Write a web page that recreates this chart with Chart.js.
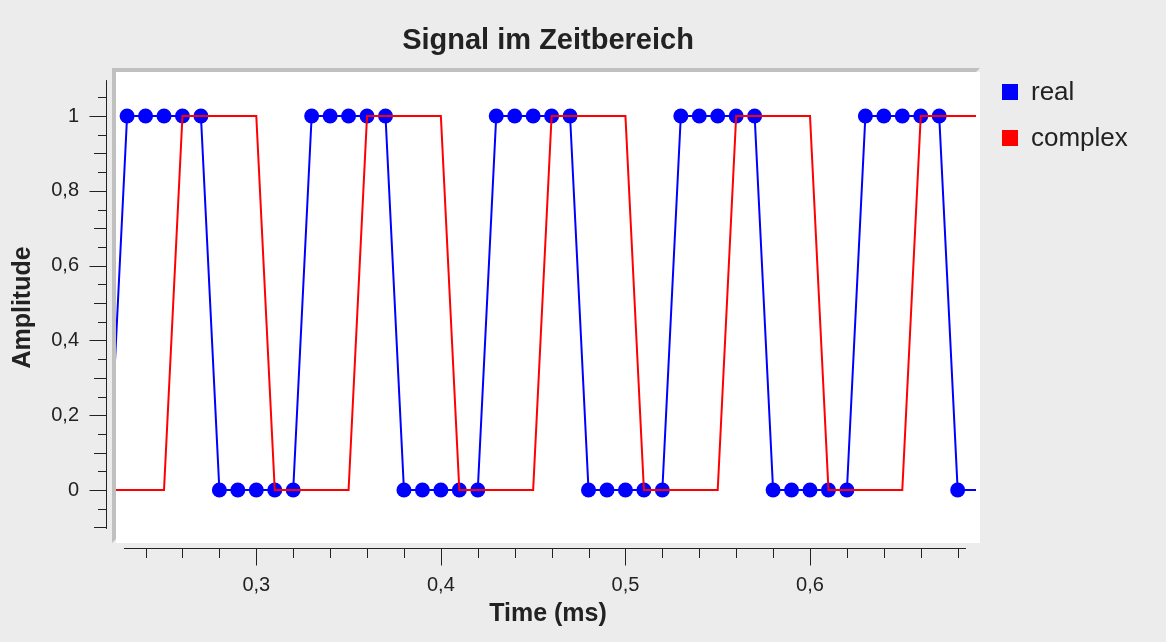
<!DOCTYPE html>
<html>
<head>
<meta charset="utf-8">
<title>Signal im Zeitbereich</title>
<script src="https://cdn.jsdelivr.net/npm/chart.js@4.4.1/dist/chart.umd.min.js"></script>
<style>
    html, body { margin: 0; padding: 0; background: #ececec; }
    #wrap { width: 1166px; height: 642px; position: relative; }
</style>
</head>
<body>
<div id="wrap"><canvas id="signalChart"></canvas></div>
<script>
// sample times (ms)
const timeMs = [0.22, 0.23, 0.24, 0.25, 0.26, 0.27, 0.28, 0.29, 0.30, 0.31,
    0.32, 0.33, 0.34, 0.35, 0.36, 0.37, 0.38, 0.39, 0.40, 0.41,
    0.42, 0.43, 0.44, 0.45, 0.46, 0.47, 0.48, 0.49, 0.50, 0.51,
    0.52, 0.53, 0.54, 0.55, 0.56, 0.57, 0.58, 0.59, 0.60, 0.61,
    0.62, 0.63, 0.64, 0.65, 0.66, 0.67, 0.68, 0.69, 0.70]

const realValues = [0, 1, 1, 1, 1, 1, 0, 0, 0, 0,
    0, 1, 1, 1, 1, 1, 0, 0, 0, 0,
    0, 1, 1, 1, 1, 1, 0, 0, 0, 0,
    0, 1, 1, 1, 1, 1, 0, 0, 0, 0,
    0, 1, 1, 1, 1, 1, 0, 0, 0]

const complexValues = [0, 0, 0, 0, 1, 1, 1, 1, 1, 0,
    0, 0, 0, 0, 1, 1, 1, 1, 1, 0,
    0, 0, 0, 0, 1, 1, 1, 1, 1, 0,
    0, 0, 0, 0, 1, 1, 1, 1, 1, 0,
    0, 0, 0, 0, 1, 1, 1, 1, 1]

const xTickValues = [0.3, 0.4, 0.5, 0.6]
const xTickLabels = ['0,3', '0,4', '0,5', '0,6']
const xMinorTicks = [0.24, 0.26, 0.28, 0.32, 0.34, 0.36, 0.38, 0.42, 0.44, 0.46, 0.48,
    0.52, 0.54, 0.56, 0.58, 0.62, 0.64, 0.66, 0.68]

const yTickValues = [0, 0.2, 0.4, 0.6, 0.8, 1]
const yTickLabels = ['0', '0,2', '0,4', '0,6', '0,8', '1']
const yMidTicks = [-0.1, 0.1, 0.3, 0.5, 0.7, 0.9]
const yMinorTicks = [-0.05, 0.05, 0.15, 0.25, 0.35, 0.45, 0.55, 0.65, 0.75, 0.85, 0.95, 1.05]

// drawn axis extent and visible plot window
const xAxisRange = [0.2283, 0.6845]
const yAxisRange = [-0.104, 1.096]
const xView = [0.22399, 0.69210]
const yView = [-0.14171, 1.11765]

const seriesNames = ['real', 'complex']
const seriesColors = ['#0000ff', '#ff0000']

const toPoints = (values) => timeMs.map((t, i) => ({ x: t, y: values[i] }))

const inAxisRange = (c) => c.raw && c.raw.x >= xAxisRange[0] && c.raw.x <= xAxisRange[1]

const frameAndAxes = {
    id: 'frameAndAxes',
    beforeDraw (chart) {
        const { ctx, chartArea: a } = chart
        ctx.save()
        ctx.fillStyle = '#ffffff'
        ctx.fillRect(a.left, a.top, a.right - a.left, a.bottom - a.top)
        ctx.fillStyle = '#c0c0c0'
        ctx.beginPath()
        ctx.moveTo(a.left - 4, a.top - 4)
        ctx.lineTo(a.right, a.top - 4)
        ctx.lineTo(a.right - 4, a.top)
        ctx.lineTo(a.left, a.top)
        ctx.lineTo(a.left, a.bottom - 4)
        ctx.lineTo(a.left - 4, a.bottom)
        ctx.closePath()
        ctx.fill()
        ctx.restore()
    },
    afterDraw (chart) {
        const { ctx, chartArea: a, scales: { x, y } } = chart
        ctx.save()
        ctx.strokeStyle = '#222222'
        ctx.lineWidth = 1

        // y axis
        const ax = a.left - 9.5
        ctx.beginPath()
        ctx.moveTo(ax, y.getPixelForValue(yAxisRange[1]))
        ctx.lineTo(ax, y.getPixelForValue(yAxisRange[0]))
        const yTick = (v, len) => {
            const py = Math.round(y.getPixelForValue(v)) + 0.5
            ctx.moveTo(ax, py)
            ctx.lineTo(ax - len, py)
        }
        yTickValues.forEach(v => yTick(v, 17))
        yMidTicks.forEach(v => yTick(v, 12.5))
        yMinorTicks.forEach(v => yTick(v, 8.5))

        // x axis
        const ay = a.bottom + 5.5
        ctx.moveTo(x.getPixelForValue(xAxisRange[0]), ay)
        ctx.lineTo(x.getPixelForValue(xAxisRange[1]), ay)
        const xTick = (v, len) => {
            const px = Math.round(x.getPixelForValue(v)) + 0.5
            ctx.moveTo(px, ay)
            ctx.lineTo(px, ay + len)
        }
        xTickValues.forEach(v => xTick(v, 17))
        xMinorTicks.forEach(v => xTick(v, 9.5))
        ctx.stroke()

        // legend
        ctx.font = "26px 'Liberation Sans', Arial, sans-serif"
        ctx.textBaseline = 'middle'
        ctx.textAlign = 'left'
        seriesNames.forEach((name, i) => {
            const top = a.top + 12 + i * 46
            ctx.fillStyle = seriesColors[i]
            ctx.fillRect(a.right + 22, top, 16, 16)
            ctx.fillStyle = '#222222'
            ctx.fillText(name, a.right + 51, top + 9)
        })
        ctx.restore()
    }
}

Chart.defaults.font.family = "'Liberation Sans', Arial, sans-serif"
Chart.defaults.color = '#222222'

new Chart(document.getElementById('signalChart'), {
    type: 'line',
    data: {
        datasets: [
            {
                label: seriesNames[0],
                data: toPoints(realValues),
                borderColor: seriesColors[0],
                backgroundColor: seriesColors[0],
                borderWidth: 2,
                pointRadius: c => inAxisRange(c) ? 7.5 : 0,
                pointBorderWidth: 0,
                pointBackgroundColor: seriesColors[0],
                tension: 0,
                fill: false,
                order: 1,
                clip: { left: 0, top: 0, right: -4, bottom: 0 },
            }, {
                label: seriesNames[1],
                data: toPoints(complexValues),
                borderColor: seriesColors[1],
                backgroundColor: seriesColors[1],
                borderWidth: 2,
                pointRadius: 0,
                tension: 0,
                fill: false,
                order: 0,
                clip: { left: 0, top: 0, right: -4, bottom: 0 },
            }],
    },
    options: {
        animation: false,
        responsive: true,
        maintainAspectRatio: false,
        layout: {
            padding: { left: 0, top: 0, right: 186, bottom: 0 },
        },
        plugins: {
            legend: { display: false },
            tooltip: { enabled: false },
            title: {
                display: true,
                text: 'Signal im Zeitbereich',
                fullSize: false,
                color: '#222222',
                font: { size: 29, weight: 'bold', lineHeight: 1.2 },
                padding: { top: 23.6, bottom: 13.6 },
            },
        },
        scales: {
            x: {
                type: 'linear',
                min: xView[0],
                max: xView[1],
                afterFit: s => { s.height = 99 },
                afterBuildTicks: s => { s.ticks = xTickValues.map(v => ({ value: v })) },
                ticks: {
                    callback: v => xTickLabels[xTickValues.indexOf(v)],
                    autoSkip: false,
                    maxRotation: 0,
                    padding: 30,
                    font: { size: 20 },
                    color: '#222222',
                },
                grid: { display: false, drawTicks: false },
                border: { display: false },
                title: {
                    display: true,
                    text: 'Time (ms)',
                    color: '#222222',
                    font: { size: 25, weight: 'bold', lineHeight: 1.2 },
                    padding: { top: 0, bottom: 13 },
                },
            },
            y: {
                type: 'linear',
                min: yView[0],
                max: yView[1],
                afterFit: s => { s.width = 116 },
                afterBuildTicks: s => { s.ticks = yTickValues.map(v => ({ value: v })) },
                ticks: {
                    callback: v => yTickLabels[yTickValues.indexOf(v)],
                    autoSkip: false,
                    padding: 37,
                    font: { size: 20 },
                    color: '#222222',
                },
                grid: { display: false, drawTicks: false },
                border: { display: false },
                title: {
                    display: true,
                    text: 'Amplitude',
                    color: '#222222',
                    font: { size: 25, weight: 'bold', lineHeight: 1.2 },
                    padding: { top: 8.5, bottom: 0 },
                },
            },
        },
    },
    plugins: [frameAndAxes],
})
</script>
</body>
</html>
